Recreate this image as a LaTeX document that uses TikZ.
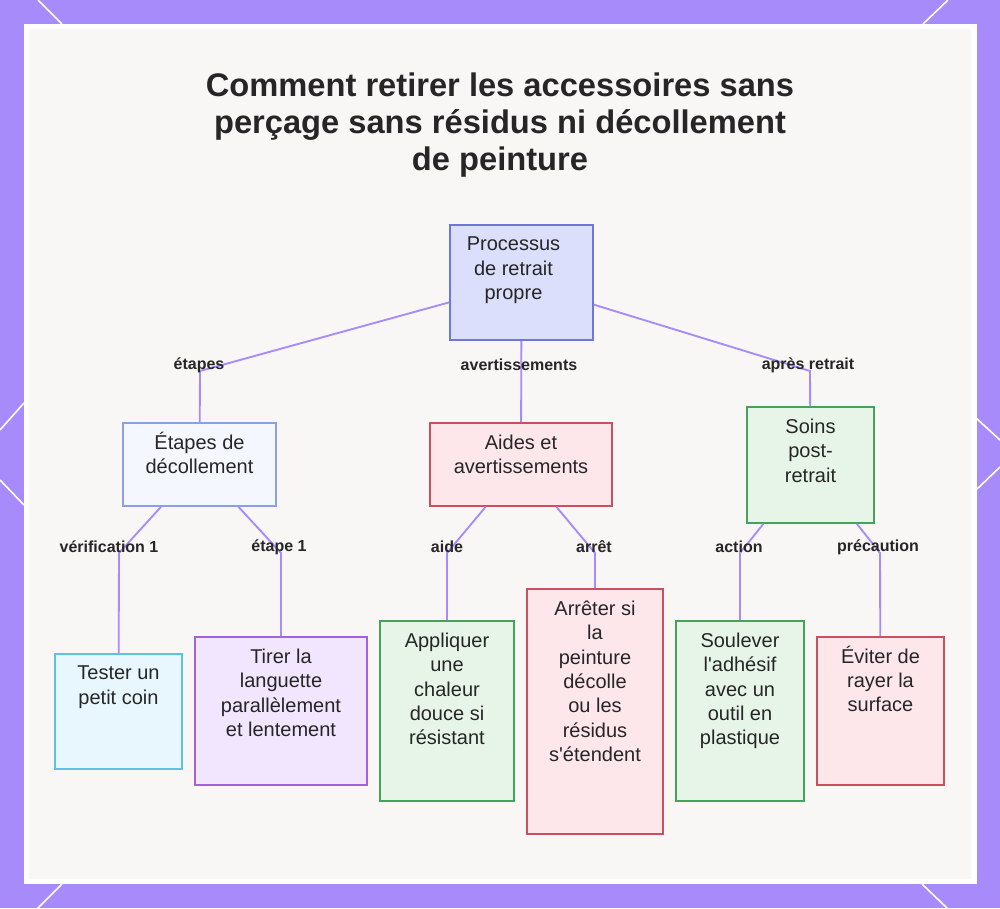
\documentclass[tikz,border=0pt]{standalone}
\usepackage{fontspec}
\setmainfont{Liberation Sans}
\usetikzlibrary{positioning,fit}
\definecolor{violet}{HTML}{A78BFA}
\definecolor{ink}{HTML}{262626}
\definecolor{paper}{HTML}{F8F7F5}
\definecolor{rootfill}{HTML}{DCDFFB}
\definecolor{rootline}{HTML}{6E76D8}
\definecolor{stepfill}{HTML}{F5F7FE}
\definecolor{stepline}{HTML}{8AA0E6}
\definecolor{warnfill}{HTML}{FDE7EB}
\definecolor{warnline}{HTML}{C9505F}
\definecolor{okfill}{HTML}{E7F5E9}
\definecolor{okline}{HTML}{44A35A}
\definecolor{testfill}{HTML}{E8F7FD}
\definecolor{testline}{HTML}{5BC2DF}
\definecolor{pullfill}{HTML}{F1E6FD}
\definecolor{pullline}{HTML}{A461DE}
\tikzset{
  box/.style={draw,line width=1.2pt,inner sep=0pt},
  rootbox/.style={box,fill=rootfill,draw=rootline},
  stepbox/.style={box,fill=stepfill,draw=stepline},
  warnbox/.style={box,fill=warnfill,draw=warnline},
  okbox/.style={box,fill=okfill,draw=okline},
  testbox/.style={box,fill=testfill,draw=testline},
  pullbox/.style={box,fill=pullfill,draw=pullline},
  txt/.style={anchor=north,align=center,inner sep=0pt,text=ink,
              font=\fontsize{15}{18.2}\selectfont,yshift=-9.5pt},
  tag/.style={inner sep=1pt,text=ink,font=\bfseries\fontsize{12}{14}\selectfont},
  link/.style={draw=violet,line width=1.4pt},
  deco/.style={draw=white,line width=1.2pt}
}

\begin{document}
\begin{tikzpicture}[x=0.75pt,y=-0.75pt]
    \useasboundingbox (0,0) rectangle (1000,908);
    % frame
    \fill[violet] (0,0) rectangle (1000,908);
    \fill[white] (24,24) rectangle (977,884);
    \fill[paper] (29,29) rectangle (971,879);
    \draw[deco] (38,0) -- (62,24);
    \draw[deco] (948,0) -- (923,24);
    \draw[deco] (62,884) -- (38,908);
    \draw[deco] (922,884) -- (947,908);
    \draw[deco] (0,430) -- (24,403);
    \draw[deco] (0,480) -- (24,505);
    \draw[deco] (976,418) -- (1000,440);
    \draw[deco] (976,490) -- (1000,467);

    \node[align=center,text=ink,font=\bfseries\fontsize{24.5}{27.75}\selectfont] (title) at (500,125)
      {Comment retirer les accessoires sans\\perçage sans résidus ni décollement\\de peinture};

    % boxes
    \node[rootbox,fit={(450,225) (593,340)}] (root) {};
    \node[stepbox,fit={(123,423) (276,506)}] (etapes) {};
    \node[warnbox,fit={(430,423) (612,506)}] (aides) {};
    \node[okbox,fit={(747,407) (874,523)}] (soins) {};
    \node[testbox,fit={(55,654) (182,769)}] (tester) {};
    \node[pullbox,fit={(195,637) (367,785)}] (tirer) {};
    \node[okbox,fit={(380,621) (514,801)}] (chaleur) {};
    \node[warnbox,fit={(527,589) (663,834)}] (arreter) {};
    \node[okbox,fit={(676,621) (804,801)}] (soulever) {};
    \node[warnbox,fit={(817,637) (944,785)}] (eviter) {};

    \node[txt,xshift=-6pt] (rootT) at (root.north) {Processus\\de retrait\\propre};
    \node[txt,yshift=2.3pt] (etapesT) at (etapes.north) {Étapes de\\décollement};
    \node[txt] (aidesT) at (aides.north) {Aides et\\avertissements};
    \node[txt] (soinsT) at (soins.north) {Soins\\post-\\retrait};
    \node[txt] (testerT) at (tester.north) {Tester un\\petit coin};
    \node[txt] (tirerT) at (tirer.north) {Tirer la\\languette\\parallèlement\\et lentement};
    \node[txt] (chaleurT) at (chaleur.north) {Appliquer\\une\\chaleur\\douce si\\résistant};
    \node[txt] (arreterT) at (arreter.north) {Arrêter si\\la\\peinture\\décolle\\ou les\\résidus\\s\textquotesingle étendent};
    \node[txt] (souleverT) at (soulever.north) {Soulever\\l\textquotesingle adhésif\\avec un\\outil en\\plastique};
    \node[txt,yshift=2.3pt] (eviterT) at (eviter.north) {Éviter de\\rayer la\\surface};

    % bends
    \coordinate (b1) at (200,371);
    \coordinate (b3) at (810,371);
    \coordinate (c1) at (119,553);
    \coordinate (c2) at (281,553);
    \coordinate (c3) at (447,553);
    \coordinate (c4) at (595,553);
    \coordinate (c5) at (740,553);
    \coordinate (c6) at (880,553);

    \draw[link] (root) -- (b1) -- (etapes);
    \draw[link] (root) -- (aides);
    \draw[link] (root) -- (b3) -- (soins);
    \draw[link] (etapes) -- (c1) -- (tester);
    \draw[link] (etapes) -- (c2) -- (tirer);
    \draw[link] (aides) -- (c3) -- (chaleur);
    \draw[link] (aides) -- (c4) -- (arreter);
    \draw[link] (soins) -- (c5) -- (soulever);
    \draw[link] (soins) -- (c6) -- (eviter);

    % labels
    \node[tag] (l1) at (199,365) {étapes};
    \node[tag] (l2) at (519,365) {avertissements};
    \node[tag] (l3) at (808,365) {après retrait};
    \node[tag] (m1) at (109,547) {vérification 1};
    \node[tag] (m2) at (279,547) {étape 1};
    \node[tag] (m3) at (447,547) {aide};
    \node[tag] (m4) at (594,547) {arrêt};
    \node[tag] (m5) at (739,547) {action};
    \node[tag] (m6) at (878,547) {précaution};
  \end{tikzpicture}
\end{document}
